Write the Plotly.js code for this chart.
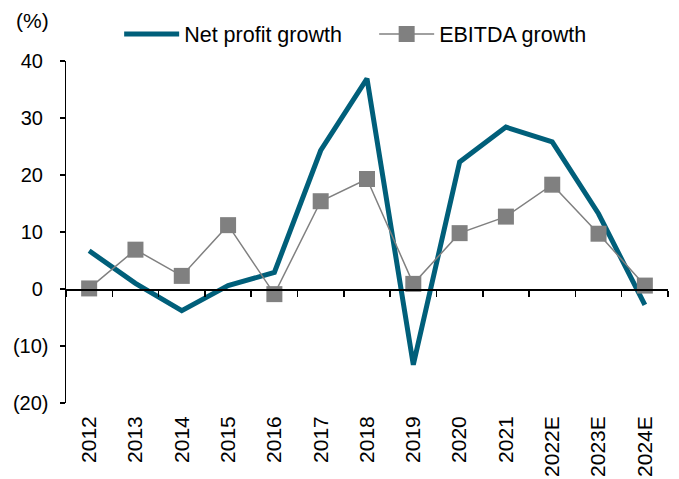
<!DOCTYPE html>
<html>
<head>
<meta charset="utf-8">
<script src="https://cdn.plot.ly/plotly-3.0.1.min.js"></script>
<style>html,body{margin:0;padding:0;background:#fff;}#chart{width:679px;height:479px;}</style>
</head>
<body>
<div id="chart"></div>
<script>
var years = ['2012','2013','2014','2015','2016','2017','2018','2019','2020','2021','2022E','2023E','2024E'];
var netProfitGrowth = [6.7, 1.0, -3.8, 0.6, 2.9, 24.3, 36.9, -13.3, 22.3, 28.4, 25.8, 13.2, -2.8];
var ebitdaGrowth = [0.1, 6.9, 2.3, 11.2, -0.9, 15.4, 19.3, 0.9, 9.8, 12.7, 18.3, 9.7, 0.6];
var yTickVals = [-20, -10, 0, 10, 20, 30, 40];
var yTickText = ['(20)', '(10)', '0\u00a0', '10\u00a0', '20\u00a0', '30\u00a0', '40\u00a0'];

var font = 'Liberation Sans, Arial, sans-serif';

var traces = [
  {
    x: years, y: netProfitGrowth, name: 'Net profit growth', type: 'scatter', mode: 'lines',
    line: {color: '#005F7A', width: 5}, xaxis: 'x', yaxis: 'y'
  },
  {
    x: years, y: ebitdaGrowth, name: 'EBITDA growth', type: 'scatter', mode: 'lines+markers',
    line: {color: '#808080', width: 1.5},
    marker: {symbol: 'square', size: 16, color: '#808080'},
    xaxis: 'x2', yaxis: 'y'
  }
];

var layout = {
  width: 679, height: 479,
  margin: {l: 66, r: 11, t: 61, b: 76},
  paper_bgcolor: '#fff', plot_bgcolor: '#fff',
  font: {family: font, size: 21, color: '#000'},
  showlegend: true,
  legend: {
    orientation: 'h', x: 0.0883, y: 1.079, xanchor: 'left', yanchor: 'middle',
    font: {family: font, size: 21.5, color: '#000'}, itemwidth: 55,
    entrywidth: 185, entrywidthmode: 'pixels',
    bgcolor: 'rgba(0,0,0,0)', traceorder: 'normal'
  },
  xaxis: {
    type: 'category', categoryorder: 'array', categoryarray: years,
    range: [-0.5, 12.5], showline: false, showgrid: false, zeroline: false,
    ticks: '', tickangle: -90, ticklabelstandoff: 8,
    tickfont: {family: font, size: 21, color: '#000'}
  },
  xaxis2: {
    type: 'category', categoryorder: 'array', categoryarray: years,
    overlaying: 'x', anchor: 'free', position: 1/3, side: 'bottom',
    range: [-0.5, 12.5], showline: true, linecolor: '#000', linewidth: 1.5,
    showgrid: false, zeroline: false, showticklabels: false,
    ticks: 'outside', tickson: 'boundaries', ticklen: 6, tickwidth: 1.5, tickcolor: '#000'
  },
  yaxis: {
    range: [-20, 40], tickvals: yTickVals, ticktext: yTickText,
    showline: true, linecolor: '#000', linewidth: 1.5,
    ticks: 'outside', ticklen: 5, tickwidth: 1.5, tickcolor: '#000',
    showgrid: false, zeroline: false, ticklabelstandoff: 7,
    tickfont: {family: font, size: 20, color: '#000'}
  },
  annotations: [
    {text: '(%)', xref: 'paper', yref: 'paper', x: 0, y: 1, xanchor: 'center', yanchor: 'middle',
     xshift: -34, yshift: 41, showarrow: false, font: {family: font, size: 21, color: '#000'}}
  ]
};

Plotly.newPlot('chart', traces, layout, {displayModeBar: false, staticPlot: true});
</script>
</body>
</html>
